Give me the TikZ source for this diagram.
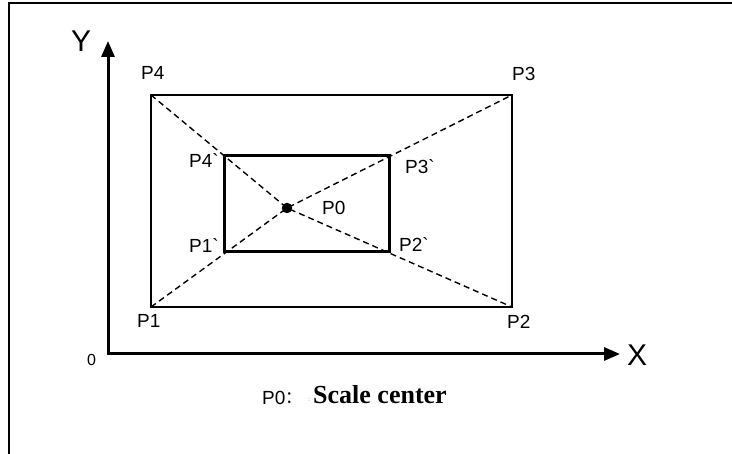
\documentclass[tikz,border=0pt]{standalone}
\usepackage{fontspec}
\setmainfont{Liberation Serif}
\newfontfamily\sans{Liberation Sans}
\newfontfamily\cjk{Noto Sans CJK SC}
\usetikzlibrary{arrows.meta}
\begin{document}
\begin{tikzpicture}[x=1pt,y=-1pt,
  lbl/.style={font=\sans\fontsize{19}{19}\selectfont, inner sep=0pt, anchor=base west},
  axislbl/.style={font=\sans\fontsize{30}{30}\selectfont, inner sep=0pt, anchor=base west},
  axisline/.style={line width=3pt, line join=miter,
    arrows={Triangle[length=16pt,width=13pt]-Triangle[length=16pt,width=13pt]}},
  outerbox/.style={line width=2.6pt},
  innerbox/.style={line width=3pt},
  guide/.style={line width=1.4pt, dash pattern=on 6pt off 4pt},
  framestyle/.style={line width=2.4pt}]
\useasboundingbox (0,0) rectangle (732,454);
% frame
\coordinate (FB) at (9,454);
\coordinate (FC) at (9,3.3);
\coordinate (FR) at (732,3.3);
\draw[framestyle] (FB) -- (FC) -- (FR);
% axes
\coordinate (O) at (108,354);
\coordinate (Ytip) at (108,41);
\coordinate (Xtip) at (620,354);
\draw[axisline] (Ytip) -- (O) -- (Xtip);
\node[axislbl] (Ylbl) at (71,52) {Y};
\node[axislbl] (Xlbl) at (627,366) {X};
\node[font=\sans\fontsize{16}{16}\selectfont, inner sep=0pt, anchor=base west] (Olbl) at (87,366) {0};
% outer rectangle
\coordinate (P1) at (151,307);
\coordinate (P2) at (512,307);
\coordinate (P3) at (512,95);
\coordinate (P4) at (151,95);
\draw[outerbox] (P1) -- (P2) -- (P3) -- (P4) -- cycle;
% inner rectangle
\coordinate (Q1) at (224.5,252);
\coordinate (Q2) at (389.5,252);
\coordinate (Q3) at (389.5,156);
\coordinate (Q4) at (224.5,156);
\draw[innerbox] (Q1) -- (Q2) -- (Q3) -- (Q4) -- cycle;
% centre
\node[circle, fill=black, inner sep=0pt, minimum size=10.5pt] (P0) at (287,208) {};
\draw[guide] (P1) -- (P0.center) -- (P3);
\draw[guide] (P4) -- (P0.center) -- (P2);
% labels
\node[lbl] (L4) at (141,80) {P4};
\node[lbl] (L3) at (512,81) {P3};
\node[lbl] (L1) at (137,328) {P1};
\node[lbl] (L2) at (507,329) {P2};
\node[lbl] (L4i) at (189,168) {P4\symbol{96}};
\node[lbl] (L3i) at (405,174) {P3\symbol{96}};
\node[lbl] (L1i) at (189,253) {P1\symbol{96}};
\node[lbl] (L2i) at (399,252) {P2\symbol{96}};
\node[lbl] (L0) at (322,215) {P0};
% caption
\node[lbl] (C0) at (262,405) {P0};
\node[font=\cjk\fontsize{17}{17}\selectfont, inner sep=0pt, anchor=base west] (Ccolon) at (285,404) {：};
\node[font=\sans\fontsize{6}{6}\selectfont, text=black!60, inner sep=0pt, anchor=base west] (Cdot) at (308,402) {:};
\node[font=\bfseries\fontsize{26}{26}\selectfont, inner sep=0pt, anchor=base west] (Ctext) at (313,404) {Scale center};
\end{tikzpicture}
\end{document}
